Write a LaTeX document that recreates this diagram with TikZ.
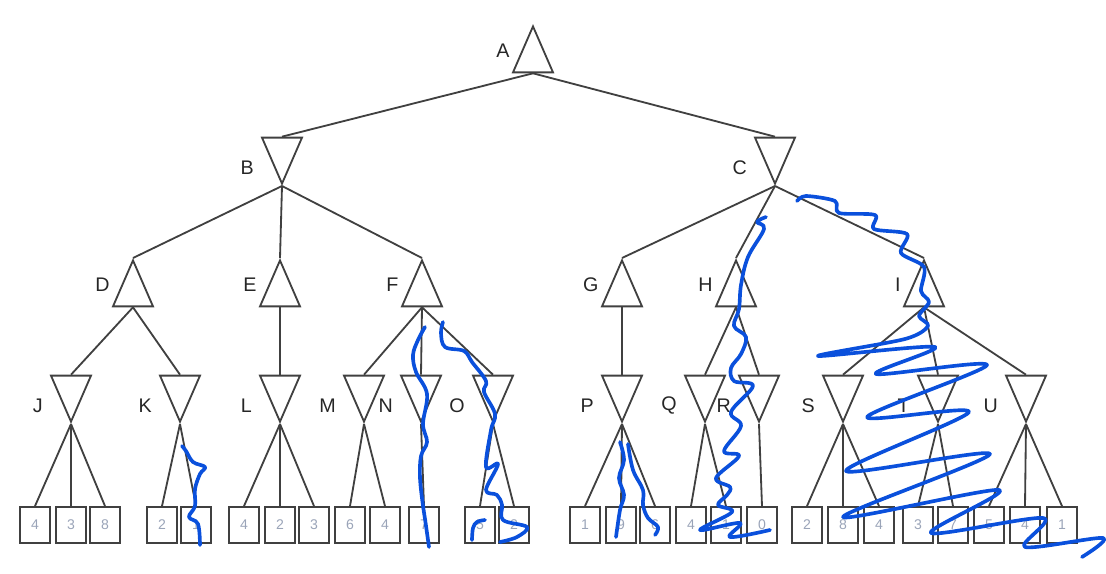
\documentclass[tikz,border=0pt]{standalone}
\usepackage{fontspec}
\setmainfont{Liberation Sans}
\usepackage{xcolor}
\usetikzlibrary{shapes.geometric}
\definecolor{treegray}{HTML}{404040}
\definecolor{leafnum}{HTML}{9AA4B8}
\definecolor{penblue}{HTML}{0A50DC}
\tikzset{
  maxnode/.style={draw=treegray, line width=1.3pt, isosceles triangle, shape border rotate=90,
    isosceles triangle stretches, minimum width=1cm, minimum height=1.15cm, inner sep=0pt, anchor=apex},
  minnode/.style={maxnode, shape border rotate=270},
  maxlab/.style={xshift=0.12cm, yshift=0.22cm},
  minlab/.style={yshift=-0.42cm},
  leaf/.style={draw=treegray, line width=1.3pt, minimum width=0.75cm, minimum height=0.9cm,
    inner sep=0pt, text=leafnum, font=\fontsize{10}{12}\selectfont},
  branch/.style={draw=treegray, line width=1.3pt},
  pen/.style={penblue, line width=2.6pt, line cap=round, line join=round},
  every label/.style={font=\fontsize{14}{16}\selectfont, text=black!85}
}
\begin{document}
\begin{tikzpicture}[x=0.025cm, y=-0.025cm, label distance=0.2cm]
    \useasboundingbox (0,0) rectangle (1106,573);
    %画布大小与原图一致
    \node[maxnode, label={[maxlab]left:A}] (A) at (533,24) {};
    %根节点A(max)
    \node[minnode, label={[minlab]left:B}] (B) at (282,186) {};
    \node[minnode, label={[minlab]left:C}] (C) at (775,186) {};
    %第二层B,C(min)
    \node[maxnode, label={[maxlab]left:D}] (D) at (133,258) {};
    \node[maxnode, label={[maxlab]left:E}] (E) at (280,258) {};
    \node[maxnode, label={[maxlab]left:F}] (F) at (422,258) {};
    \node[maxnode, label={[maxlab]left:G}] (G) at (622,258) {};
    \node[maxnode, label={[maxlab]left:H}] (H) at (736,258) {};
    \node[maxnode, label={[maxlab]left:I}] (I) at (924,258) {};
    %第三层D到I(max)
    \foreach \n/\x in {J/71, K/180, L/280, M/364, N/421, O/493, P/622, Q/705, R/759, S/843, T/938, U/1026}
        {\node[minnode, label={[minlab]left:\n}] (\n) at (\x,424) {};}
    %第四层J到U(min)
    \foreach \n/\x/\v in {J1/35/4, J2/71/3, J3/105/8, K1/162/2, K2/196/1, L1/244/4, L2/280/2, L3/314/3,
        M1/350/6, M2/385/4, N1/424/7, O1/480/5, O2/514/2, P1/585/1, P2/621/9, P3/655/6, Q1/691/4, Q2/726/1,
        R1/762/0, S1/807/2, S2/843/8, S3/879/4, T1/918/3, T2/953/7, U1/989/5, U2/1025/4, U3/1062/1}
        {\node[leaf] (\n) at (\x,525) {\v};}
    %叶子节点及其取值
    \foreach \p/\c in {A/B, A/C, D/J, D/K, E/L, F/M, F/N, F/O, G/P, H/Q, H/R, I/S, I/T, I/U}
        {\draw[branch] (\p.lower side) -- (\c.lower side);}
    %max节点到min子节点
    \foreach \p/\c in {B/D, B/E, B/F, C/G, C/H, C/I}
        {\draw[branch] (\p.apex) -- (\c.apex);}
    %min节点到max子节点
    \foreach \p/\c in {J/J1, J/J2, J/J3, K/K1, K/K2, L/L1, L/L2, L/L3, M/M1, M/M2, N/N1, O/O1, O/O2,
        P/P1, P/P2, P/P3, Q/Q1, Q/Q2, R/R1, S/S1, S/S2, S/S3, T/T1, T/T2, U/U1, U/U2, U/U3}
        {\draw[branch] (\p.apex) -- (\c.north);}
    %min节点到叶子
    \draw[pen] plot[smooth, tension=0.6] coordinates {(182,446) (186,451) (193,462) (205,467) (200,474) (195,489)
        (195,506) (189,517) (198,524) (200,545)};
    \draw[pen] plot[smooth, tension=0.6] coordinates {(425,327) (418,340) (413,355) (416,372) (427,394) (423,424)
        (427,442) (421,456) (420,478) (423,506) (425,519) (429,547)};
    \draw[pen] plot[smooth, tension=0.6] coordinates {(443,322) (441,333) (445,347) (464,351) (472,362) (486,381)
        (484,392) (495,414) (491,430) (486,467) (498,464) (486,490) (497,495) (502,505) (503,520) (527,527)
        (517,537) (500,542)};
    \draw[pen] plot[smooth, tension=0.6] coordinates {(485,520) (477,522) (473,528) (472,540)};
    \draw[pen] plot[smooth, tension=0.6] coordinates {(620,442) (624,460) (619,478) (624,495) (620,510) (616,537)};
    \draw[pen] plot[smooth, tension=0.6] coordinates {(628,444) (633,470) (643,490) (643,505) (648,518) (658,527)
        (655,535)};
    \draw[pen] plot[smooth, tension=0.6] coordinates {(766,217) (757,222) (764,229) (748,257) (741,285) (739,309)
        (734,326) (746,337) (741,354) (731,368) (734,381) (753,386) (731,412) (741,426) (724,451) (739,456)
        (716,478) (730,487) (727,495) (718,505) (732,512) (700,530) (740,523) (730,537) (770,530)};
    \draw[pen] plot[smooth, tension=0.5] coordinates {(797,201) (806,196) (835,201) (839,213) (875,215) (874,229)
        (907,234) (901,253) (924,267) (921,291) (929,302) (919,316) (928,326) (905,339) (818,356) (935,347)
        (876,374) (987,365) (867,417) (969,412) (846,471) (990,454) (843,517) (999,490) (931,533) (1043,518)
        (1025,547) (1103,538) (1082,557)};
    %蓝色手绘剪枝标记
\end{tikzpicture}
\end{document}
